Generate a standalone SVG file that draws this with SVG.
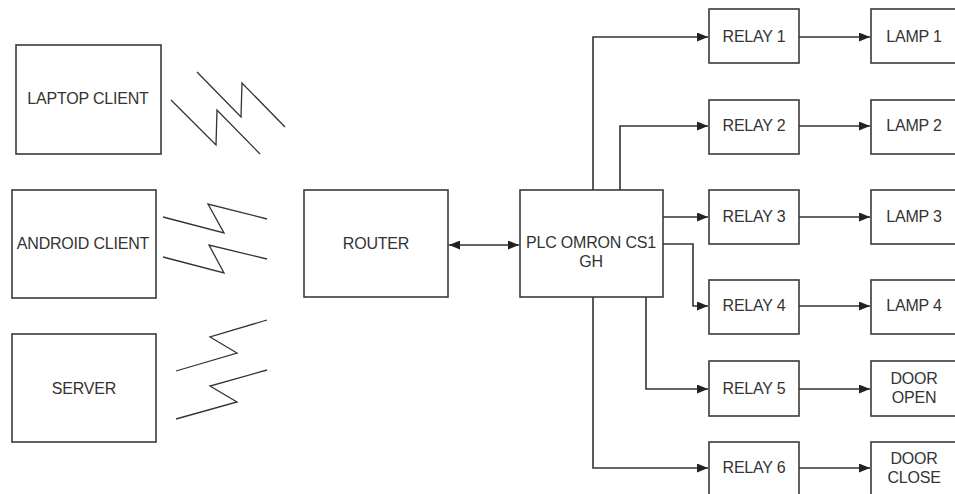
<svg xmlns="http://www.w3.org/2000/svg" width="955" height="494" viewBox="0 0 955 494">
<style>
.box{fill:#fff;stroke:#3a3a3a;stroke-width:1.6}
.t{font-family:"Liberation Sans",Arial,sans-serif;font-size:16px;fill:#333;text-anchor:middle;letter-spacing:-0.2px}
.c{fill:none;stroke:#333;stroke-width:1.6}
.z{fill:none;stroke:#333;stroke-width:1.3}
</style>
<defs>
<marker id="ah" markerWidth="11" markerHeight="9" refX="11" refY="4.5" orient="auto" markerUnits="userSpaceOnUse">
<path d="M0,0 L11,4.5 L0,9 Z" fill="#222"/>
</marker>
<marker id="as" markerWidth="11" markerHeight="9" refX="0" refY="4.5" orient="auto" markerUnits="userSpaceOnUse">
<path d="M11,0 L0,4.5 L11,9 Z" fill="#222"/>
</marker>
</defs>
<rect width="955" height="494" fill="#fff"/>
<g id="connectors">
<path class="c" d="M449,245 H519" marker-start="url(#as)" marker-end="url(#ah)"/>
<path class="c" d="M593,190 V37 H708" marker-end="url(#ah)"/>
<path class="c" d="M620,190 V126 H708" marker-end="url(#ah)"/>
<path class="c" d="M663,217 H708" marker-end="url(#ah)"/>
<path class="c" d="M663,244 H693 V306 H708" marker-end="url(#ah)"/>
<path class="c" d="M646,297 V389 H708" marker-end="url(#ah)"/>
<path class="c" d="M593,297 V468 H708" marker-end="url(#ah)"/>
<path class="c" d="M799,37 H870" marker-end="url(#ah)"/>
<path class="c" d="M799,126 H870" marker-end="url(#ah)"/>
<path class="c" d="M799,217 H870" marker-end="url(#ah)"/>
<path class="c" d="M799,306 H870" marker-end="url(#ah)"/>
<path class="c" d="M799,389 H870" marker-end="url(#ah)"/>
<path class="c" d="M799,468 H870" marker-end="url(#ah)"/>
</g>
<g id="wireless">
<path class="z" d="M197,72 L241,117 L242,83 L285,127"/>
<path class="z" d="M171,100 L216,145 L217,110 L260,154"/>
<path class="z" d="M163,217 L224,233 L208,204 L267,219"/>
<path class="z" d="M163,257 L224,273 L209,245 L267,259"/>
<path class="z" d="M176,371 L237,353 L210,337 L267,320"/>
<path class="z" d="M176,419 L237,402 L210,386 L267,370"/>
</g>
<g id="laptop"><rect class="box" x="16" y="45" width="145" height="109"/><text class="t" x="88" y="104">LAPTOP CLIENT</text></g>
<g id="android"><rect class="box" x="12" y="190" width="144" height="108"/><text class="t" x="83" y="249">ANDROID CLIENT</text></g>
<g id="server"><rect class="box" x="12" y="334" width="144" height="108"/><text class="t" x="84" y="394">SERVER</text></g>
<g id="router"><rect class="box" x="304" y="190" width="144" height="107"/><text class="t" x="376" y="249">ROUTER</text></g>
<g id="plc"><rect class="box" x="520" y="190" width="143" height="107"/><text class="t" x="591" y="248">PLC OMRON CS1</text><text class="t" x="591" y="267">GH</text></g>
<g id="relay1"><rect class="box" x="709" y="9" width="90" height="54"/><text class="t" x="754" y="42">RELAY 1</text></g>
<g id="relay2"><rect class="box" x="709" y="100" width="90" height="54"/><text class="t" x="754" y="131">RELAY 2</text></g>
<g id="relay3"><rect class="box" x="709" y="190" width="90" height="54"/><text class="t" x="754" y="222">RELAY 3</text></g>
<g id="relay4"><rect class="box" x="709" y="280" width="90" height="54"/><text class="t" x="754" y="311">RELAY 4</text></g>
<g id="relay5"><rect class="box" x="709" y="361" width="90" height="55"/><text class="t" x="754" y="394">RELAY 5</text></g>
<g id="relay6"><rect class="box" x="709" y="442" width="90" height="56"/><text class="t" x="754" y="473">RELAY 6</text></g>
<g id="lamp1"><rect class="box" x="871" y="9" width="88" height="54"/><text class="t" x="914" y="42">LAMP 1</text></g>
<g id="lamp2"><rect class="box" x="871" y="100" width="88" height="54"/><text class="t" x="914" y="131">LAMP 2</text></g>
<g id="lamp3"><rect class="box" x="871" y="190" width="88" height="54"/><text class="t" x="914" y="222">LAMP 3</text></g>
<g id="lamp4"><rect class="box" x="871" y="280" width="88" height="54"/><text class="t" x="914" y="311">LAMP 4</text></g>
<g id="dooropen"><rect class="box" x="871" y="361" width="88" height="55"/><text class="t" x="914" y="384">DOOR</text><text class="t" x="914" y="403">OPEN</text></g>
<g id="doorclose"><rect class="box" x="871" y="442" width="88" height="56"/><text class="t" x="914" y="464">DOOR</text><text class="t" x="914" y="483">CLOSE</text></g>
</svg>
